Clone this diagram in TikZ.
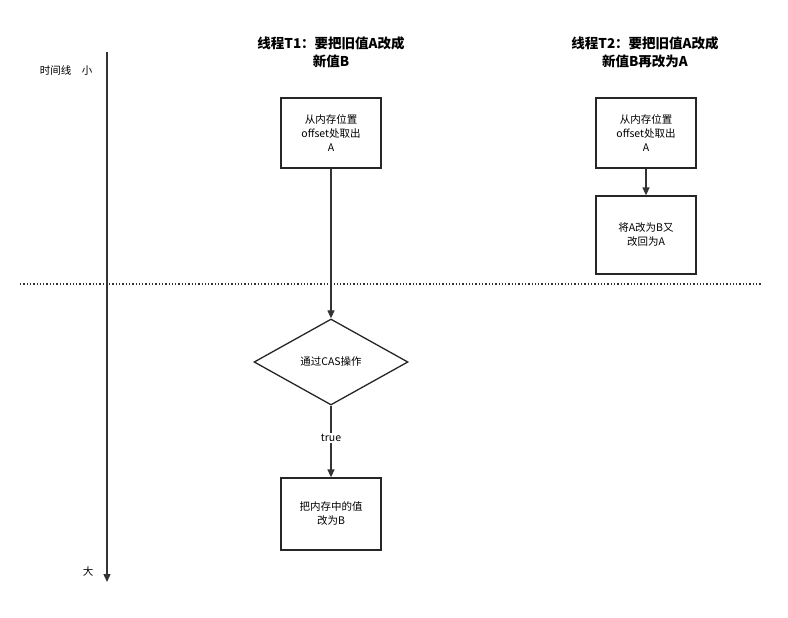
\documentclass[tikz,border=0pt]{standalone}
\usepackage{fontspec}
\setmainfont{Noto Sans CJK SC}
\usetikzlibrary{shapes.geometric,arrows.meta}
\begin{document}
\begin{tikzpicture}[x=1pt,y=-1pt,
 box/.style={draw=black!85,line width=1.3pt,minimum width=100pt,minimum height=70pt,align=center,font=\fontsize{10.5}{14}\selectfont,inner sep=2pt},
 arr/.style={draw=black!80,line width=1.3pt,-{Triangle[length=8pt,width=7pt]}},
 ttl/.style={font=\fontsize{13.5}{18}\selectfont\bfseries,align=center},
 lbl/.style={font=\fontsize{10.5}{12}\selectfont}]
\useasboundingbox (0,0) rectangle (788,618);
\coordinate (tl0) at (107,52);
\coordinate (tl1) at (107,582);
\draw[arr] (tl0) -- (tl1);
\node[lbl] (small) at (66,71) {时间线\quad 小};
\node[lbl] (big) at (88,572) {大};
\coordinate (d0) at (20,284);
\coordinate (d1) at (762,284);
\draw[line width=1.3pt,dotted,black!80] (d0) -- (d1);
\node[ttl] (t1) at (331,52) {线程T1：要把旧值A改成\\新值B};
\node[ttl] (t2) at (645,52) {线程T2：要把旧值A改成\\新值B再改为A};
\node[box] (b1) at (331,133) {从内存位置\\offset处取出\\A};
\node[box] (b2) at (646,133) {从内存位置\\offset处取出\\A};
\node[box,minimum height=78pt] (b3) at (646,235) {将A改为B又\\改回为A};
\node[draw=black!85,line width=1.3pt,diamond,aspect=1.8,minimum width=154pt,minimum height=86pt,font=\fontsize{10.5}{14}\selectfont,inner sep=0pt] (dm) at (331,362) {通过CAS操作};
\node[box,minimum height=72pt] (b4) at (331,514) {把内存中的值\\改为B};
\draw[arr] (b1) -- (dm);
\draw[arr] (b2) -- (b3);
\draw[arr] (dm) -- node[fill=white,lbl,inner sep=1pt,pos=0.45] (tr) {true} (b4);
\end{tikzpicture}
\end{document}
